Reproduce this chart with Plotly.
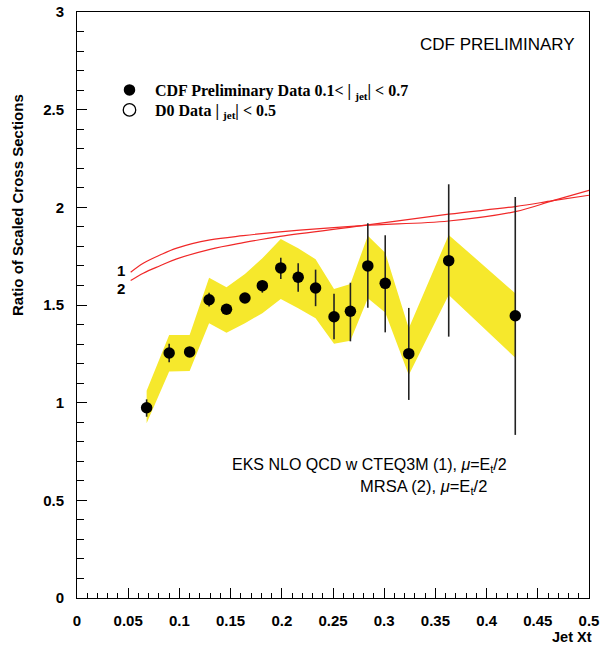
import plotly.graph_objects as go

# ---- data ----
jet_xt = [0.068, 0.090, 0.110, 0.129, 0.146, 0.164, 0.181, 0.199, 0.216,
          0.233, 0.251, 0.267, 0.284, 0.301, 0.324, 0.363, 0.428]
ratio = [0.974, 1.254, 1.260, 1.527, 1.478, 1.536, 1.599, 1.690, 1.642,
         1.587, 1.440, 1.468, 1.700, 1.611, 1.251, 1.727, 1.445]
err_hi = [1.017, 1.301, 1.280, 1.563, 1.493, 1.551, 1.623, 1.742, 1.714,
          1.681, 1.557, 1.614, 1.919, 1.857, 1.485, 2.118, 2.053]
err_lo = [0.928, 1.207, 1.240, 1.492, 1.463, 1.521, 1.563, 1.633, 1.568,
          1.494, 1.325, 1.314, 1.486, 1.360, 1.014, 1.338, 0.835]
band_hi = [1.061, 1.347, 1.347, 1.640, 1.591, 1.659, 1.739, 1.838, 1.791,
           1.734, 1.582, 1.608, 1.855, 1.768, 1.381, 1.859, 1.560]
band_lo = [0.894, 1.159, 1.162, 1.407, 1.358, 1.407, 1.458, 1.531, 1.483,
           1.432, 1.302, 1.317, 1.535, 1.461, 1.142, 1.551, 1.230]

theory_x = [0.0524, 0.0647, 0.0811, 0.0974, 0.1299, 0.1624, 0.1982,
            0.2783, 0.3630, 0.4280, 0.4648, 0.5000]
cteq3m = [1.668, 1.714, 1.756, 1.791, 1.833, 1.855, 1.874,
          1.906, 1.930, 1.978, 2.034, 2.087]
mrsa = [1.625, 1.663, 1.701, 1.736, 1.785, 1.819, 1.851,
        1.906, 1.965, 2.004, 2.034, 2.062]

x_range = [0, 0.5]
y_range = [0, 3]

legend_cdf = "CDF Preliminary Data 0.1< | <sub>jet</sub>| < 0.7"
legend_d0 = "D0 Data | <sub>jet</sub>| < 0.5"

# ---- figure ----
fig = go.Figure()

fig.add_trace(go.Scatter(
    x=jet_xt + jet_xt[::-1],
    y=band_hi + band_lo[::-1],
    fill="toself", fillcolor="#f6e82c", mode="none",
    line=dict(width=0), showlegend=False, hoverinfo="skip"))

fig.add_trace(go.Scatter(
    x=theory_x, y=cteq3m, mode="lines", line=dict(color="#f02828", width=1.2, shape="spline"),
    showlegend=False))
fig.add_trace(go.Scatter(
    x=theory_x, y=mrsa, mode="lines", line=dict(color="#f02828", width=1.2, shape="spline"),
    showlegend=False))

fig.add_trace(go.Scatter(
    x=jet_xt, y=ratio, mode="markers", name=legend_cdf, legend="legend",
    marker=dict(color="black", size=11.5, symbol="circle"),
    error_y=dict(type="data", symmetric=False,
                 array=[h - r for h, r in zip(err_hi, ratio)],
                 arrayminus=[r - l for r, l in zip(ratio, err_lo)],
                 color="#222222", thickness=1.6, width=0)))

fig.add_trace(go.Scatter(
    x=[None], y=[None], mode="markers", name=legend_d0, legend="legend2",
    marker=dict(color="white", size=12.5, symbol="circle",
                line=dict(color="black", width=1.3))))

sans = "Liberation Sans"
axis_common = dict(
    showgrid=False, zeroline=False, showline=True, mirror=True, automargin=False,
    linecolor="black", linewidth=1, ticks="inside", tickcolor="black",
    tickfont=dict(family=sans, size=15, color="black", weight="bold"),
    ticklabelstandoff=9,
)

fig.update_xaxes(range=x_range, tick0=0, dtick=0.05, ticklen=10,
                 minor=dict(dtick=0.01, ticklen=5, ticks="inside", tickcolor="black"),
                 **axis_common)
fig.update_yaxes(range=y_range, tick0=0, dtick=0.5, ticklen=10,
                 minor=dict(dtick=0.1, ticklen=7, ticks="inside", tickcolor="black"),
                 **axis_common)

annotations = [
    dict(text="CDF PRELIMINARY", xref="paper", yref="paper", x=0.822, y=0.945,
         xanchor="center", yanchor="middle", showarrow=False,
         font=dict(family=sans, size=17, color="black")),
    dict(text="EKS NLO QCD w CTEQ3M (1), <i>μ</i>=E<sub>t</sub>/2", xref="paper", yref="paper",
         x=0.299, y=0.2253, xanchor="left", yanchor="middle", showarrow=False,
         font=dict(family=sans, size=16, color="black")),
    dict(text="MRSA (2), <i>μ</i>=E<sub>t</sub>/2", xref="paper", yref="paper",
         x=0.548, y=0.189, xanchor="left", yanchor="middle", showarrow=False,
         font=dict(family=sans, size=16.5, color="black")),
    dict(text="1", xref="x", yref="y", x=0.043, y=1.678, showarrow=False,
         xanchor="center", yanchor="middle",
         font=dict(family=sans, size=15, color="black", weight="bold")),
    dict(text="2", xref="x", yref="y", x=0.043, y=1.587, showarrow=False,
         xanchor="center", yanchor="middle",
         font=dict(family=sans, size=15, color="black", weight="bold")),
    dict(text="Ratio of Scaled Cross Sections", xref="paper", yref="paper",
         x=-0.1152, y=0.8635, xanchor="center", yanchor="top", textangle=-90,
         showarrow=False, font=dict(family=sans, size=15, color="black", weight="bold")),
    dict(text="Jet Xt", xref="paper", yref="paper", x=1.0098, y=-0.0665,
         xanchor="right", yanchor="middle", showarrow=False,
         font=dict(family=sans, size=14.5, color="black", weight="bold")),
]

legend_font = dict(family="Liberation Serif", size=16, color="black", weight="bold")
fig.update_layout(
    width=605, height=645,
    margin=dict(l=77, r=16, t=12, b=47),
    paper_bgcolor="white", plot_bgcolor="white",
    showlegend=True,
    legend=dict(x=0.0527, y=0.8669, xanchor="left", yanchor="middle",
                bgcolor="rgba(0,0,0,0)", borderwidth=0, itemwidth=41, font=legend_font),
    legend2=dict(x=0.0527, y=0.8328, xanchor="left", yanchor="middle",
                 bgcolor="rgba(0,0,0,0)", borderwidth=0, itemwidth=41, font=legend_font),
    annotations=annotations,
)

fig.write_html("out.html", config={"displayModeBar": False},
               post_script="document.body.style.margin='0';")
